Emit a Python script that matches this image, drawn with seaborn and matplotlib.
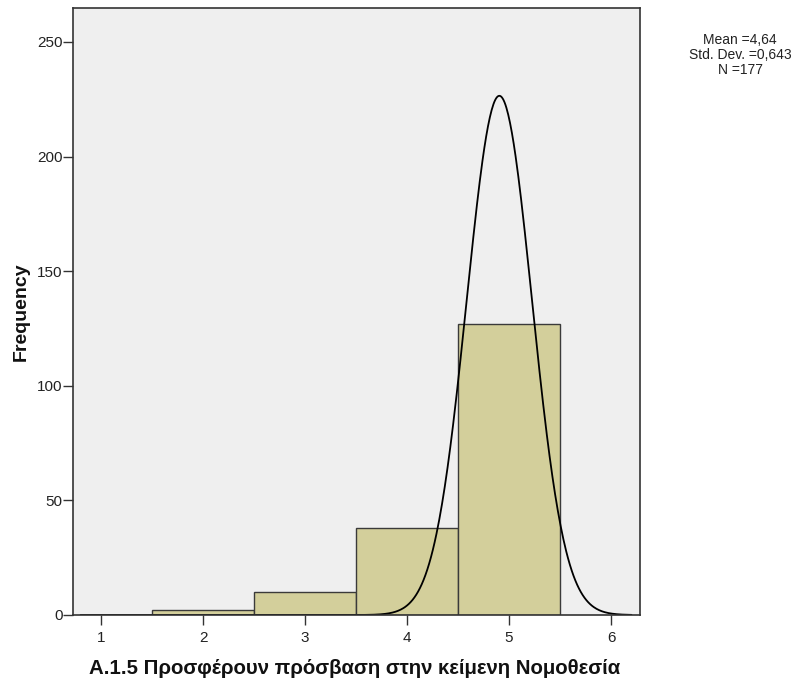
import numpy as np
import pandas as pd
import matplotlib
matplotlib.use("Agg")
import matplotlib.pyplot as plt
import seaborn as sns

# Response categories and their frequencies
categories = [2, 3, 4, 5]
frequencies = [2, 10, 38, 127]

# Fitted normal curve overlay (centre, spread, peak height)
curve_center = 4.905
curve_sd = 0.32
curve_peak = 226.5

stats_lines = ["Mean =4,64", "Std. Dev. =0,643", "N =177"]
x_ticks = [1, 2, 3, 4, 5, 6]
y_ticks = [0, 50, 100, 150, 200, 250]
x_label = "A.1.5 Προσφέρουν πρόσβαση στην κείμενη Νομοθεσία"
y_label = "Frequency"

sns.set_theme(style="ticks")
plt.rcParams["font.family"] = ["Liberation Sans", "DejaVu Sans"]

fig = plt.figure(figsize=(8.01, 6.83), dpi=100)
ax = fig.add_axes([73 / 801, 1 - 615 / 683, (640 - 73) / 801, (615 - 8) / 683])
ax.set_facecolor("#efefef")

df = pd.DataFrame({"value": categories, "count": frequencies})
sns.histplot(data=df, x="value", weights="count", discrete=True,
             color="#d3cf9b", edgecolor="#3a3a3a", linewidth=1.0,
             alpha=1.0, ax=ax)

xs = np.linspace(0.8, 6.2, 600)
ys = curve_peak * np.exp(-0.5 * ((xs - curve_center) / curve_sd) ** 2)
sns.lineplot(x=xs, y=ys, color="black", linewidth=1.3, ax=ax)

ax.set_xlim(0.725, 6.284)
ax.set_ylim(0, 264.8)
ax.set_xticks(x_ticks)
ax.set_yticks(y_ticks)
ax.tick_params(axis="both", direction="out", length=7, width=1.0,
               color="#333333", labelsize=11, labelcolor="#222222")
ax.tick_params(axis="x", pad=4.5)
ax.tick_params(axis="y", pad=0.5)
for s in ax.spines.values():
    s.set_color("#333333")
    s.set_linewidth(1.2)
    s.set_visible(True)

ax.set_xlabel("")
ax.set_ylabel("")
fig.text(355 / 801, 1 - 674 / 683, x_label, ha="center", va="baseline",
         fontsize=14.7, fontweight="bold", color="#111111")
fig.text(21 / 801, 1 - 312 / 683, y_label, ha="center", va="center",
         rotation=90, fontsize=14, fontweight="bold", color="#111111")

fig.text(740 / 801, 1 - 55 / 683, "\n".join(stats_lines), ha="center",
         va="center", fontsize=10, linespacing=1.05, color="#222222")

fig.savefig("out.png", dpi=100, facecolor="white")
